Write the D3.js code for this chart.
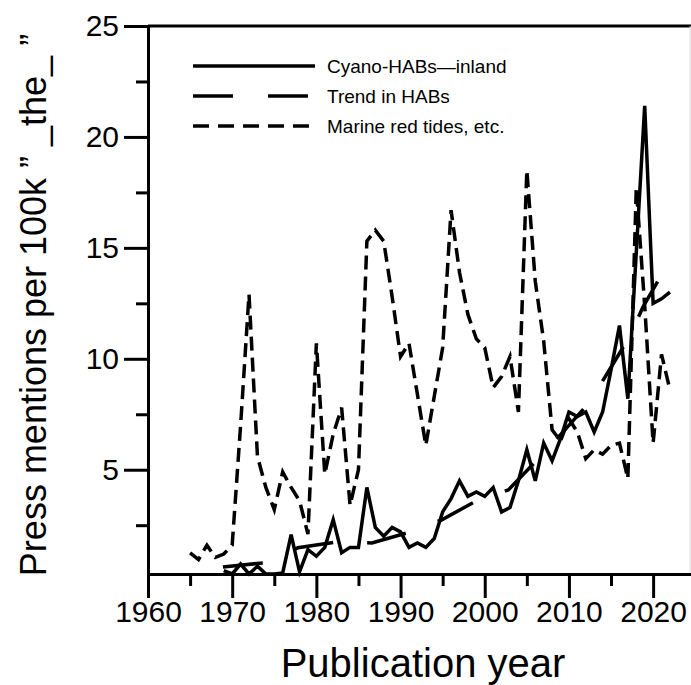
<!DOCTYPE html>
<html>
<head>
<meta charset="utf-8">
<script src="https://cdn.jsdelivr.net/npm/d3@7"></script>
<style>
  body { margin: 0; background: #fff; }
  text { font-family: "Liberation Sans", Arial, sans-serif; fill: #000; }
</style>
</head>
<body>
<div id="viz"></div>
<script>
// values
const marineYears = d3.range(1965, 2023);
const marineValues = [
  1.25, 0.95, 1.6, 1.05, 1.2, 1.6, 7.0, 12.9, 5.6, 4.2,
  3.2, 4.9, 4.2, 3.6, 2.1, 10.7, 4.8, 6.6, 7.8, 3.4,
  5.0, 15.3, 15.8, 15.3, 12.8, 10.1, 10.7, 8.4, 6.1, 8.3,
  10.5, 16.7, 13.9, 12.0, 10.9, 10.5, 8.7, 9.2, 10.1, 7.6,
  18.5, 13.5, 10.8, 6.8, 6.3, 7.3, 6.7, 5.5, 5.9, 5.7,
  6.1, 6.2, 4.6, 17.7, 12.4, 6.2, 10.2, 8.6
];

const cyanoYears = d3.range(1969, 2023);
const cyanoValues = [
  0.45, 0.3, 0.75, 0.3, 0.65, 0.3, 0.3, 0.35, 2.07, 0.4,
  1.4, 1.1, 1.5, 2.75, 1.26, 1.5, 1.5, 4.2, 2.4, 2.0,
  2.4, 2.2, 1.5, 1.7, 1.5, 1.9, 3.1, 3.7, 4.5, 3.8,
  4.0, 3.8, 4.2, 3.1, 3.3, 4.5, 5.9, 4.5, 6.2, 5.4,
  6.4, 7.6, 7.4, 7.6, 6.7, 7.6, 9.5, 11.5, 8.2, 14.8,
  21.4, 12.5, 12.7, 13.0
];

const trendYears = [1968.9, 1973.7, 1977.8, 1982.4, 1986.6, 1991.1, 1994.9, 1999.2,
  2002.8, 2006.0, 2009.2, 2012.5, 2014.6, 2017.2, 2018.8, 2021.2];
const trendValues = [0.62, 0.8, 1.48, 1.74, 1.7, 2.19, 2.74, 3.64,
  4.09, 5.35, 6.66, 8.06, 9.37, 10.99, 12.34, 13.92];

const xMajorTicks = [1960, 1970, 1980, 1990, 2000, 2010, 2020];
const xMinorTicks = [1965, 1975, 1985, 1995, 2005, 2015];
const yMajorTicks = [5, 10, 15, 20, 25];
const yMinorTicks = [2.5, 7.5, 12.5, 17.5, 22.5];

const legendLabels = ["Cyano-HABs\u2014inland", "Trend in HABs", "Marine red tides, etc."];
const legendDashes = [null, "40,35", "16,9"];

const width = 691;
const height = 685;

const svg = d3.select("#viz")
  .append("svg")
  .attr("width", width)
  .attr("height", height);

const x = d3.scaleLinear().domain([1960, 2024.5]).range([148, 691]);
const y = d3.scaleLinear().domain([0.3, 25]).range([574, 26]);

// frame top and right edge
svg.append("line")
  .attr("x1", x(1960)).attr("x2", width)
  .attr("y1", y(25)).attr("y2", y(25))
  .attr("stroke", "#000").attr("stroke-width", 3);
svg.append("line")
  .attr("x1", 690).attr("x2", 690)
  .attr("y1", y(25)).attr("y2", y(0.3))
  .attr("stroke", "#ddd").attr("stroke-width", 1);

// axes
svg.append("g")
  .attr("transform", `translate(0,${y(0.3)})`)
  .call(d3.axisBottom(x).tickValues(xMajorTicks).tickFormat(d3.format("d"))
    .tickSize(24).tickSizeOuter(0).tickPadding(3));
svg.append("g")
  .attr("transform", `translate(0,${y(0.3)})`)
  .call(d3.axisBottom(x).tickValues(xMinorTicks).tickFormat("")
    .tickSize(12).tickSizeOuter(0))
  .select(".domain").remove();

svg.append("g")
  .attr("transform", `translate(${x(1960)},0)`)
  .call(d3.axisLeft(y).tickValues(yMajorTicks)
    .tickSize(24).tickSizeOuter(0).tickPadding(5));
svg.append("g")
  .attr("transform", `translate(${x(1960)},0)`)
  .call(d3.axisLeft(y).tickValues(yMinorTicks).tickFormat("")
    .tickSize(12).tickSizeOuter(0))
  .select(".domain").remove();

svg.selectAll(".domain, .tick line")
  .attr("stroke", "#000").attr("stroke-width", 3);
svg.selectAll(".tick text")
  .attr("font-size", 30)
  .attr("font-family", "Liberation Sans, Arial, sans-serif");

// axis titles
svg.append("text")
  .attr("x", 423).attr("y", 677)
  .attr("text-anchor", "middle")
  .attr("font-size", 40)
  .text("Publication year");

svg.append("text")
  .attr("transform", "translate(46,305) rotate(-90)")
  .attr("text-anchor", "middle")
  .attr("font-size", 36)
  .text("Press mentions per 100k \u201D _the_ \u201D");

// series
const line = d3.line()
  .x(d => x(d[0]))
  .y(d => y(d[1]));

const plot = svg.append("g");

plot.append("path")
  .datum(d3.zip(marineYears, marineValues))
  .attr("d", line)
  .attr("fill", "none")
  .attr("stroke", "#000")
  .attr("stroke-width", 3.5)
  .attr("stroke-dasharray", "14,7");

plot.append("path")
  .datum(d3.zip(trendYears, trendValues))
  .attr("d", line)
  .attr("fill", "none")
  .attr("stroke", "#000")
  .attr("stroke-width", 3.5)
  .attr("stroke-dasharray", "40,34");

plot.append("path")
  .datum(d3.zip(cyanoYears, cyanoValues))
  .attr("d", line)
  .attr("fill", "none")
  .attr("stroke", "#000")
  .attr("stroke-width", 3.5);

// legend
const legend = svg.append("g");
legendLabels.forEach((label, i) => {
  const ly = 66 + i * 30;
  legend.append("line")
    .attr("x1", 193).attr("x2", 315)
    .attr("y1", ly).attr("y2", ly)
    .attr("stroke", "#000")
    .attr("stroke-width", 3.5)
    .attr("stroke-dasharray", legendDashes[i]);
  legend.append("text")
    .attr("x", 327).attr("y", ly)
    .attr("dy", "0.35em")
    .attr("font-size", 19)
    .text(label);
});
</script>
</body>
</html>
